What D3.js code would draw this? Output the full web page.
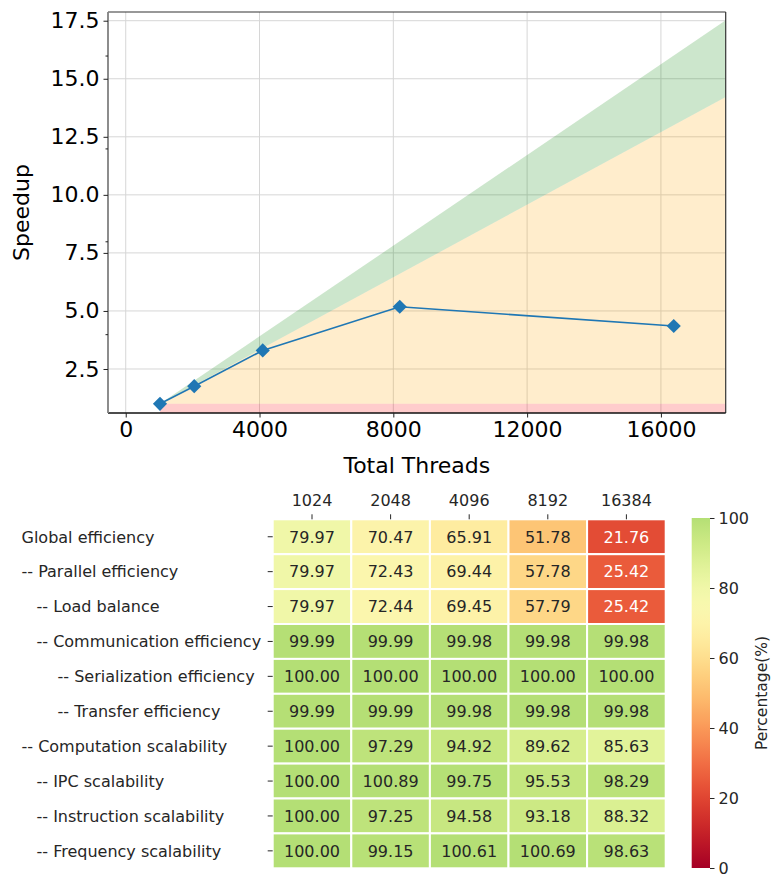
<!DOCTYPE html>
<html><head><meta charset="utf-8">
<script src="https://cdn.jsdelivr.net/npm/d3@7"></script>
<style>
body{margin:0;background:#fff}
svg{display:block}
text{font-family:"DejaVu Sans",sans-serif}
</style>
</head><body><svg id="c" width="771" height="877"></svg>
<script>
// ---------- data ----------
const threads = [1024, 2048, 4096, 8192, 16384];
const speedup = [1.00, 1.76, 3.30, 5.18, 4.35];
const xTicks = [0, 4000, 8000, 12000, 16000];
const yTicks = [2.5, 5.0, 7.5, 10.0, 12.5, 15.0, 17.5];
const yMinorTicks = [4, 8, 12, 16];
const efficiencyThreshold = 0.8;

const metricLabels = [
  "Global efficiency",
  "-- Parallel efficiency",
  "-- Load balance",
  "-- Communication efficiency",
  "-- Serialization efficiency",
  "-- Transfer efficiency",
  "-- Computation scalability",
  "-- IPC scalability",
  "-- Instruction scalability",
  "-- Frequency scalability"
];
const metricLevel = [0, 0, 1, 1, 2, 2, 0, 1, 1, 1];
const globalEfficiency        = [79.97, 70.47, 65.91, 51.78, 21.76];
const parallelEfficiency      = [79.97, 72.43, 69.44, 57.78, 25.42];
const loadBalance             = [79.97, 72.44, 69.45, 57.79, 25.42];
const communicationEfficiency = [99.99, 99.99, 99.98, 99.98, 99.98];
const serializationEfficiency = [100.00, 100.00, 100.00, 100.00, 100.00];
const transferEfficiency      = [99.99, 99.99, 99.98, 99.98, 99.98];
const computationScalability  = [100.00, 97.29, 94.92, 89.62, 85.63];
const ipcScalability          = [100.00, 100.89, 99.75, 95.53, 98.29];
const instructionScalability  = [100.00, 97.25, 94.58, 93.18, 88.32];
const frequencyScalability    = [100.00, 99.15, 100.61, 100.69, 98.63];
const heatRows = [globalEfficiency, parallelEfficiency, loadBalance, communicationEfficiency,
  serializationEfficiency, transferEfficiency, computationScalability, ipcScalability,
  instructionScalability, frequencyScalability];
const colorbarTicks = [0, 20, 40, 60, 80, 100];

// ---------- top chart ----------
const svg = d3.select("#c");
const defs = svg.append("defs");
const P = {l: 108, r: 725.7, t: 12, b: 413};
const x = d3.scaleLinear().domain([-530, 17937]).range([P.l, P.r]);
const y = d3.scaleLinear().domain([0.605, 17.875]).range([P.b, P.t]);
const topG = svg.append("g");
defs.append("clipPath").attr("id", "plotclip")
  .append("rect").attr("x", P.l).attr("y", P.t).attr("width", P.r - P.l).attr("height", P.b - P.t);

// grid
const grid = topG.append("g").attr("stroke", "#d6d6d6").attr("stroke-width", 1);
xTicks.forEach(v => grid.append("line").attr("x1", x(v)).attr("x2", x(v)).attr("y1", P.t).attr("y2", P.b));
yTicks.forEach(v => grid.append("line").attr("x1", P.l).attr("x2", P.r).attr("y1", y(v)).attr("y2", y(v)));

// bands
const base = threads[0];
const xs = [base, x.domain()[1]];
const ideal = t => t / base;
const lower = t => 1 + efficiencyThreshold * (t / base - 1);
const bands = topG.append("g").attr("clip-path", "url(#plotclip)");
const area = d3.area().x(d => x(d.t)).y0(d => y(d.lo)).y1(d => y(d.hi));
bands.append("path").attr("fill", "#ff0000").attr("fill-opacity", 0.2)
  .attr("d", area(xs.map(t => ({t, lo: y.domain()[0], hi: 1}))));
bands.append("path").attr("fill", "#ffa500").attr("fill-opacity", 0.2)
  .attr("d", area(xs.map(t => ({t, lo: 1, hi: Math.max(1, lower(t))}))));
bands.append("path").attr("fill", "#008000").attr("fill-opacity", 0.2)
  .attr("d", area(xs.map(t => ({t, lo: Math.max(1, lower(t)), hi: ideal(t)}))));

// line + markers
const pts = threads.map((t, i) => ({t, s: speedup[i]}));
topG.append("path").attr("fill", "none").attr("stroke", "#1f77b4").attr("stroke-width", 1.6)
  .attr("d", d3.line().x(d => x(d.t)).y(d => y(d.s))(pts));
topG.append("g").selectAll("path").data(pts).join("path")
  .attr("transform", d => `translate(${x(d.t)},${y(d.s)}) rotate(45)`)
  .attr("d", d3.symbol(d3.symbolSquare, 100)())
  .attr("fill", "#1f77b4");

// spines
topG.append("line").attr("x1", P.l).attr("x2", P.r).attr("y1", P.t).attr("y2", P.t).attr("stroke", "#333").attr("stroke-width", 1.2);
topG.append("line").attr("x1", P.r).attr("x2", P.r).attr("y1", P.t).attr("y2", P.b).attr("stroke", "#333").attr("stroke-width", 1.2);
topG.append("line").attr("x1", P.l).attr("x2", P.r).attr("y1", P.b).attr("y2", P.b).attr("stroke", "#111").attr("stroke-width", 1.3);
topG.append("line").attr("x1", P.l).attr("x2", P.l).attr("y1", P.t).attr("y2", P.b).attr("stroke", "#808080").attr("stroke-width", 1.8);

// axes
const xAxis = topG.append("g").attr("transform", `translate(0,${P.b})`)
  .call(d3.axisBottom(x).tickValues(xTicks).tickFormat(d3.format("d")).tickSize(4.5).tickPadding(4));
xAxis.select(".domain").remove();
xAxis.selectAll("text").attr("font-size", 22).attr("fill", "#000").style("font-family", '"DejaVu Sans"');
xAxis.selectAll("line").attr("stroke", "#222");
const yAxis = topG.append("g").attr("transform", `translate(${P.l},0)`)
  .call(d3.axisLeft(y).tickValues(yTicks).tickFormat(d3.format(".1f")).tickSize(4.5).tickPadding(4));
yAxis.select(".domain").remove();
yAxis.selectAll("text").attr("font-size", 22).attr("fill", "#000").style("font-family", '"DejaVu Sans"');
yAxis.selectAll("line").attr("stroke", "#222");
const yMinor = topG.append("g").attr("transform", `translate(${P.l},0)`)
  .call(d3.axisLeft(y).tickValues(yMinorTicks).tickFormat("").tickSize(2.5));
yMinor.select(".domain").remove();
yMinor.selectAll("line").attr("stroke", "#222");

topG.append("text").attr("x", (P.l + P.r) / 2).attr("y", 473).attr("text-anchor", "middle")
  .attr("font-size", 22).attr("fill", "#000").text("Total Threads");
topG.append("text").attr("transform", `translate(29,${(P.t + P.b) / 2}) rotate(-90)`).attr("text-anchor", "middle")
  .attr("font-size", 22).attr("fill", "#000").text("Speedup");

// ---------- heatmap ----------
const FS = 16;
const H = {l: 272.7, r: 665.7, t: 519.3, b: 868.3};
const cx = d3.scaleBand().domain(threads.map(String)).range([H.l, H.r]);
const cy = d3.scaleBand().domain(metricLabels).range([H.t, H.b]);
const cmap = v => d3.interpolateRdYlGn(0.67 * Math.max(0, Math.min(1, v / 100)));
const lum = c => {
  const r = d3.rgb(c);
  const f = u => { u /= 255; return u <= 0.03928 ? u / 12.92 : Math.pow((u + 0.055) / 1.055, 2.4); };
  return 0.2126 * f(r.r) + 0.7152 * f(r.g) + 0.0722 * f(r.b);
};
const hm = svg.append("g");
const cells = [];
heatRows.forEach((row, i) => row.forEach((v, j) => cells.push({label: metricLabels[i], t: String(threads[j]), v})));
hm.selectAll("rect").data(cells).join("rect")
  .attr("x", d => cx(d.t)).attr("y", d => cy(d.label))
  .attr("width", cx.bandwidth()).attr("height", cy.bandwidth())
  .attr("fill", d => cmap(d.v)).attr("stroke", "#fff").attr("stroke-width", 2);
hm.selectAll("text.v").data(cells).join("text").attr("class", "v")
  .attr("x", d => cx(d.t) + cx.bandwidth() / 2).attr("y", d => cy(d.label) + cy.bandwidth() / 2)
  .attr("text-anchor", "middle").attr("dy", "0.36em").attr("font-size", FS)
  .attr("fill", d => lum(cmap(d.v)) > 0.408 ? "#262626" : "#ffffff")
  .text(d => d.v.toFixed(2));

// column axis (top)
const colAx = hm.append("g").attr("transform", `translate(0,${H.t})`)
  .call(d3.axisTop(cx).tickSize(5).tickPadding(8));
colAx.select(".domain").remove();
colAx.selectAll("text").attr("font-size", FS).attr("fill", "#262626").style("font-family", '"DejaVu Sans"');
colAx.selectAll("line").attr("stroke", "#262626");

// row ticks + labels
const rowAx = hm.append("g").attr("transform", `translate(${H.l},0)`)
  .call(d3.axisLeft(cy).tickSize(5).tickFormat(""));
rowAx.select(".domain").remove();
rowAx.selectAll("line").attr("stroke", "#262626");
const indentPx = [21.5, 36.5, 57.5];
hm.selectAll("text.rl").data(metricLabels).join("text").attr("class", "rl")
  .attr("x", (d, i) => indentPx[metricLevel[i]]).attr("y", d => cy(d) + cy.bandwidth() / 2)
  .attr("dy", "0.36em").attr("font-size", FS).attr("fill", "#262626").text(d => d);

// colorbar
const C = {l: 691.7, r: 710, t: 518, b: 868};
const cs = d3.scaleLinear().domain([0, 100]).range([C.b, C.t]);
const grad = defs.append("linearGradient").attr("id", "cbg")
  .attr("x1", 0).attr("y1", 1).attr("x2", 0).attr("y2", 0);
d3.range(0, 101, 2).forEach(v => grad.append("stop").attr("offset", v / 100).attr("stop-color", cmap(v)));
svg.append("rect").attr("x", C.l).attr("y", C.t).attr("width", C.r - C.l).attr("height", C.b - C.t).attr("fill", "url(#cbg)");
const cbAx = svg.append("g").attr("transform", `translate(${C.r},0)`)
  .call(d3.axisRight(cs).tickValues(colorbarTicks).tickSize(4.5).tickPadding(4));
cbAx.select(".domain").remove();
cbAx.selectAll("text").attr("font-size", FS).attr("fill", "#262626").style("font-family", '"DejaVu Sans"');
cbAx.selectAll("line").attr("stroke", "#262626");
svg.append("text").attr("transform", `translate(766.5,${(C.t + C.b) / 2}) rotate(-90)`)
  .attr("text-anchor", "middle").attr("font-size", 15.5).attr("fill", "#262626").text("Percentage(%)");
</script>
</body></html>
